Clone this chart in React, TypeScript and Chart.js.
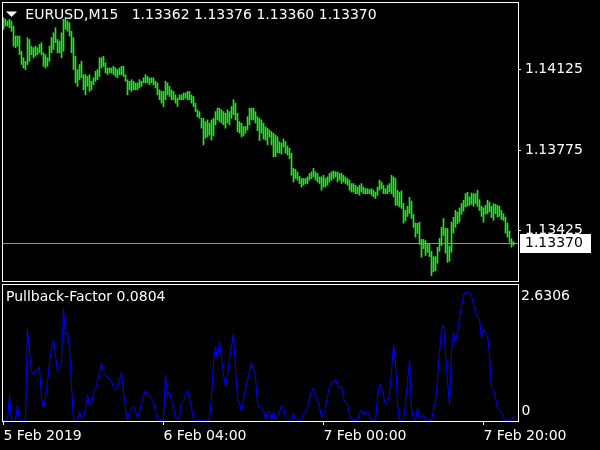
import { useEffect, useRef } from 'react';
import { Chart, registerables } from 'chart.js';

Chart.register(...registerables);

// ---------- data ----------
const symbolTitle = 'EURUSD,M15';
const lastOHLC = [1.13362, 1.13376, 1.1336, 1.1337];
const priceTicks = [1.14125, 1.13775, 1.13425];

const barHighs = [
  1.14351, 1.14344, 1.14336, 1.14344, 1.14336, 1.14314, 1.14271, 1.14271, 1.14271, 1.14205,
  1.14176, 1.14161, 1.14264, 1.14256, 1.14227, 1.1422, 1.14227, 1.1422, 1.14234, 1.14242,
  1.14198, 1.1419, 1.14176, 1.14227, 1.14264, 1.14285, 1.14307, 1.14256, 1.14249, 1.14285,
  1.14344, 1.14351, 1.14336, 1.14329, 1.14292, 1.14264, 1.14183, 1.14125, 1.14147, 1.14161,
  1.14103, 1.14103, 1.14095, 1.14103, 1.14074, 1.14089, 1.14118, 1.14125, 1.14176, 1.14176,
  1.14183, 1.14154, 1.14132, 1.14132, 1.14132, 1.14139, 1.14132, 1.14125, 1.14132, 1.14139,
  1.14139, 1.14103, 1.14081, 1.14074, 1.14081, 1.14074, 1.14067, 1.14067, 1.14081, 1.14074,
  1.14089, 1.14103, 1.14095, 1.14089, 1.14089, 1.14089, 1.14074, 1.14067, 1.14037, 1.1403,
  1.1403, 1.14074, 1.14067, 1.14052, 1.14037, 1.1403, 1.14015, 1.14001, 1.14015, 1.14015,
  1.14023, 1.14023, 1.1403, 1.1403, 1.14015, 1.14008, 1.13979, 1.1395, 1.13942, 1.13913,
  1.13913, 1.13899, 1.13906, 1.13892, 1.13906, 1.13913, 1.13942, 1.13957, 1.13957, 1.1395,
  1.13942, 1.13935, 1.1395, 1.13942, 1.13964, 1.13994, 1.13979, 1.13935, 1.13899, 1.13892,
  1.13877, 1.13877, 1.1392, 1.13957, 1.13957, 1.13957, 1.13942, 1.1392, 1.13913, 1.13906,
  1.13892, 1.13877, 1.1387, 1.13862, 1.13855, 1.13848, 1.1384, 1.13833, 1.13811, 1.13805,
  1.13823, 1.13811, 1.13792, 1.13782, 1.13761, 1.13695, 1.13691, 1.1368, 1.13661, 1.13651,
  1.13651, 1.13651, 1.13658, 1.13673, 1.1368, 1.13695, 1.1368, 1.13673, 1.13658, 1.13658,
  1.13665, 1.13651, 1.13658, 1.13673, 1.1368, 1.13684, 1.1368, 1.1368, 1.13673, 1.13673,
  1.13665, 1.13658, 1.13651, 1.13644, 1.13629, 1.13629, 1.13622, 1.13614, 1.13622, 1.13629,
  1.13614, 1.13607, 1.13607, 1.13603, 1.13607, 1.136, 1.13592, 1.13614, 1.13644, 1.13636,
  1.13622, 1.13607, 1.13622, 1.13629, 1.13665, 1.13658, 1.13651, 1.136, 1.13592, 1.13597,
  1.13543, 1.13512, 1.1353, 1.13569, 1.13553, 1.13495, 1.13457, 1.13456, 1.13461, 1.13386,
  1.13386, 1.13381, 1.13368, 1.13364, 1.13334, 1.13311, 1.13311, 1.13352, 1.1339, 1.13439,
  1.13477, 1.13434, 1.13434, 1.13356, 1.13461, 1.13482, 1.13512, 1.13505, 1.13523, 1.13542,
  1.13556, 1.13585, 1.13591, 1.13571, 1.13588, 1.13585, 1.13585, 1.136, 1.13559, 1.1353,
  1.13524, 1.13534, 1.13556, 1.13549, 1.1353, 1.13542, 1.13539, 1.13534, 1.1353, 1.13512,
  1.13498, 1.13483, 1.13457, 1.13422, 1.13389, 1.13376,
];

const barLows = [
  1.143, 1.14314, 1.14314, 1.14307, 1.14292, 1.14227, 1.1422, 1.14227, 1.1419, 1.14147,
  1.14132, 1.14125, 1.14147, 1.14161, 1.1419, 1.14176, 1.14183, 1.1419, 1.14198, 1.1419,
  1.14139, 1.14132, 1.14139, 1.14161, 1.14198, 1.14212, 1.14242, 1.14198, 1.14198, 1.14176,
  1.14205, 1.143, 1.14292, 1.14271, 1.14198, 1.14125, 1.14067, 1.14052, 1.14081, 1.14089,
  1.14037, 1.14015, 1.14052, 1.1403, 1.14037, 1.14059, 1.14074, 1.14081, 1.14095, 1.14132,
  1.14139, 1.1411, 1.14103, 1.1411, 1.1411, 1.14103, 1.14095, 1.14089, 1.14103, 1.14103,
  1.14095, 1.14074, 1.14015, 1.14037, 1.1403, 1.14037, 1.14037, 1.14037, 1.14045, 1.14052,
  1.14067, 1.14067, 1.14067, 1.14059, 1.14067, 1.14059, 1.14045, 1.14015, 1.13994, 1.13979,
  1.13964, 1.13994, 1.14015, 1.14008, 1.13994, 1.13994, 1.13979, 1.13964, 1.13994, 1.13994,
  1.13994, 1.14001, 1.13994, 1.13994, 1.13979, 1.13964, 1.13942, 1.1392, 1.13913, 1.1387,
  1.13797, 1.13827, 1.13832, 1.1384, 1.13818, 1.13836, 1.13884, 1.13906, 1.13899, 1.13892,
  1.13884, 1.1387, 1.13892, 1.13884, 1.13913, 1.13928, 1.13906, 1.13855, 1.13848, 1.13832,
  1.13836, 1.13848, 1.13862, 1.13884, 1.13906, 1.13906, 1.13892, 1.13859, 1.13816, 1.13848,
  1.13822, 1.13818, 1.13797, 1.13831, 1.13797, 1.13746, 1.13746, 1.13763, 1.13761, 1.13757,
  1.13788, 1.13761, 1.13753, 1.13738, 1.13665, 1.13636, 1.13651, 1.13644, 1.13629, 1.13614,
  1.13622, 1.13629, 1.13629, 1.13644, 1.13651, 1.13658, 1.13644, 1.13636, 1.13629, 1.136,
  1.13614, 1.13614, 1.13622, 1.13636, 1.13644, 1.13651, 1.13658, 1.13636, 1.13644, 1.13629,
  1.13636, 1.13629, 1.13622, 1.136, 1.13592, 1.13592, 1.13585, 1.13585, 1.13578, 1.13592,
  1.13585, 1.13585, 1.13585, 1.13585, 1.13578, 1.13571, 1.13564, 1.13578, 1.136, 1.13607,
  1.13585, 1.13585, 1.13585, 1.13592, 1.13585, 1.13571, 1.13534, 1.13534, 1.13527, 1.13521,
  1.13457, 1.13466, 1.13486, 1.13499, 1.13477, 1.13438, 1.13396, 1.13412, 1.13364, 1.13308,
  1.13346, 1.13316, 1.13329, 1.13311, 1.13228, 1.13245, 1.1325, 1.13282, 1.13334, 1.13359,
  1.13403, 1.13326, 1.13286, 1.13291, 1.1333, 1.13413, 1.13439, 1.13454, 1.13461, 1.13495,
  1.13509, 1.13527, 1.13531, 1.13534, 1.13539, 1.1353, 1.13542, 1.1353, 1.13512, 1.13486,
  1.13461, 1.13495, 1.13498, 1.13505, 1.13481, 1.13469, 1.13498, 1.13483, 1.13486, 1.13472,
  1.13469, 1.13413, 1.13396, 1.13374, 1.13352, 1.1336,
];

const indicatorName = 'Pullback-Factor';
const indicatorMax = 2.6306;
const pullback = [
  0, 0, 0, 0.52, 0, 0, 0, 0.32, 0, 0,
  0, 0, 1.88, 1.4, 1.0, 0.96, 1.0, 1.03, 1.1, 0.45,
  0.25, 0.45, 0.79, 1.2, 1.47, 1.64, 1.34, 1.0, 1.06, 1.2,
  2.29, 1.74, 1.81, 1.47, 0.72, 0, 0, 0, 0.18, 0.05,
  0.1, 0.25, 0.52, 0.32, 0.32, 0.59, 0.66, 0.79, 1.0, 1.17,
  1.0, 0.93, 0.87, 0.85, 0.8, 0.66, 0.62, 0.67, 0.83, 0.98,
  0.59, 0.25, 0, 0.18, 0.25, 0.28, 0.18, 0.05, 0.18, 0.35,
  0.52, 0.62, 0.51, 0.49, 0.45, 0.38, 0.18, 0, 0, 0,
  0, 0.93, 0.49, 0.59, 0.42, 0.25, 0.05, 0, 0.11, 0.35,
  0.4, 0.52, 0.62, 0.45, 0.25, 0, 0, 0, 0, 0,
  0, 0, 0, 0, 0.45, 1.2, 1.51, 1.27, 1.61, 1.27,
  0.93, 0.69, 0.93, 1.27, 1.51, 1.78, 1.06, 0.42, 0.35, 0.18,
  0.42, 0.66, 0.83, 1.0, 1.17, 1.06, 0.86, 0.35, 0.25, 0.25,
  0.21, 0, 0.18, 0.18, 0, 0.18, 0, 0.08, 0.18, 0.3,
  0.28, 0.05, 0, 0, 0, 0.15, 0.05, 0, 0, 0,
  0.15, 0.18, 0.25, 0.45, 0.59, 0.66, 0.52, 0.38, 0.28, 0.05,
  0.15, 0.25, 0.49, 0.69, 0.78, 0.79, 0.84, 0.71, 0.66, 0.69,
  0.45, 0.38, 0.33, 0.11, 0, 0, 0, 0, 0.15, 0.21,
  0.11, 0.18, 0.15, 0.08, 0, 0, 0, 0.45, 0.76, 0.66,
  0.49, 0.32, 0.35, 0.55, 1.0, 1.54, 1.2, 0.35, 0, 0,
  0, 0.38, 0.79, 1.23, 0.25, 0, 0, 0.25, 0.05, 0.05,
  0.11, 0, 0, 0, 0, 0.21, 0.38, 0.86, 1.4, 1.85,
  1.95, 1.4, 0.79, 0.32, 1.4, 1.81, 1.61, 1.78, 2.12, 2.32,
  2.56, 2.6306, 2.61, 2.61, 2.53, 2.37, 2.22, 2.12, 2.08, 1.68,
  1.87, 1.81, 1.74, 1.34, 0.66, 0.62, 0.45, 0.25, 0.21, 0.15,
  0.05, 0, 0, 0, 0, 0.0804,
];

const timeTickIndex = [0, 80, 160, 240];
const timeTickLabels = ['5 Feb 2019', '6 Feb 04:00', '7 Feb 00:00', '7 Feb 20:00'];

// ---------- styles ----------
const FAMILY = '"DejaVu Sans", sans-serif';
const FONT_SIZE = 14;
const BAR_GREEN = 'rgb(34,230,34)';
const LINE_BLUE = '#0000ff';
const BID_GRAY = 'rgb(136,146,166)';
const WHITE = '#ffffff';

const fmt = (v: number, d: number) => v.toFixed(d);

const upperPlugin = {
  id: 'upperDecor',
  afterDatasetsDraw(chart: any) {
    const { ctx, chartArea: a, scales } = chart;
    const y = Math.round(scales.y.getPixelForValue(lastOHLC[3])) + 0.5;
    ctx.save();
    ctx.strokeStyle = BID_GRAY;
    ctx.lineWidth = 1;
    ctx.beginPath();
    ctx.moveTo(a.left, y);
    ctx.lineTo(a.right, y);
    ctx.stroke();
    ctx.restore();
  },
  afterDraw(chart: any) {
    const { ctx, chartArea: a, scales } = chart;
    ctx.save();
    ctx.strokeStyle = WHITE;
    ctx.lineWidth = 1;
    ctx.strokeRect(a.left + 0.5, a.top + 0.5, a.right - a.left, a.bottom - a.top);
    // title
    ctx.fillStyle = WHITE;
    ctx.beginPath();
    ctx.moveTo(6, 11.5);
    ctx.lineTo(17, 11.5);
    ctx.lineTo(11.5, 17);
    ctx.closePath();
    ctx.fill();
    ctx.font = `${FONT_SIZE}px ${FAMILY}`;
    ctx.textBaseline = 'middle';
    ctx.textAlign = 'left';
    ctx.fillText(symbolTitle, 25.3, 15.5);
    ctx.fillText(lastOHLC.map((v) => fmt(v, 5)).join(' '), 131.7, 15.5);
    // current price box
    const yc = Math.round(scales.y.getPixelForValue(lastOHLC[3]));
    ctx.fillStyle = WHITE;
    ctx.fillRect(520, yc - 9, 71, 19);
    ctx.fillStyle = '#000';
    ctx.fillText(fmt(lastOHLC[3], 5), 525, yc + 0.5);
    ctx.restore();
  },
};

const lowerPlugin = {
  id: 'lowerDecor',
  afterDraw(chart: any) {
    const { ctx, chartArea: a, scales } = chart;
    ctx.save();
    ctx.strokeStyle = WHITE;
    ctx.lineWidth = 1;
    ctx.strokeRect(a.left + 0.5, a.top + 0.5, a.right - a.left, a.bottom - a.top);
    ctx.fillStyle = WHITE;
    ctx.font = `${FONT_SIZE}px ${FAMILY}`;
    ctx.textBaseline = 'middle';
    ctx.textAlign = 'left';
    const last = pullback[pullback.length - 1];
    ctx.fillText(`${indicatorName} ${fmt(last, 4)}`, 6, 15.5);
    const yMax = scales.y.getPixelForValue(indicatorMax);
    const yZero = scales.y.getPixelForValue(0);
    ctx.fillText(fmt(indicatorMax, 4), 521, yMax + 4.5);
    ctx.fillText('0', 521.5, yZero - 9);
    ctx.restore();
  },
};

export default function App() {
  const topRef = useRef<HTMLCanvasElement>(null);
  const botRef = useRef<HTMLCanvasElement>(null);

  useEffect(() => {
    document.body.style.margin = '0';
    document.body.style.background = '#000';
    const n = barHighs.length;
    const xMin = -0.75;
    const xMax = n + 1.25;
    const font = { family: FAMILY, size: FONT_SIZE };

    const priceBars = barHighs.map((h, i) => ({ x: i, y: [barLows[i], h] }));
    const top = new Chart(topRef.current as HTMLCanvasElement, {
      type: 'bar',
      data: {
        datasets: [
          {
            data: priceBars as any,
            backgroundColor: BAR_GREEN,
            borderWidth: 0,
            barThickness: 1,
          },
        ],
      },
      options: {
        responsive: false,
        animation: false,
        events: [],
        layout: { padding: { left: 2, top: 2, right: 0, bottom: 1 } },
        plugins: { legend: { display: false }, tooltip: { enabled: false } },
        scales: {
          x: { type: 'linear', min: xMin, max: xMax, offset: false, display: false },
          y: {
            position: 'right',
            min: 1.13205,
            max: 1.14419,
            afterBuildTicks: (s: any) => {
              s.ticks = priceTicks.map((v) => ({ value: v }));
            },
            ticks: {
              color: WHITE,
              font,
              padding: 4,
              callback: (v: any) => fmt(Number(v), 5),
            },
            grid: { drawOnChartArea: false, tickLength: 3, color: WHITE },
            border: { display: false },
            afterFit: (s: any) => {
              s.width = 82;
              s.paddingTop = 0;
              s.paddingBottom = 0;
            },
          },
        },
      } as any,
      plugins: [upperPlugin],
    });

    const indicatorPoints = pullback.map((v, i) => ({ x: i, y: v }));
    const bot = new Chart(botRef.current as HTMLCanvasElement, {
      type: 'line',
      data: {
        datasets: [
          {
            data: indicatorPoints,
            borderColor: LINE_BLUE,
            borderWidth: 1,
            pointRadius: 0,
            tension: 0,
            fill: false,
          },
        ],
      },
      options: {
        responsive: false,
        animation: false,
        events: [],
        layout: { padding: { left: 2, top: 2, right: 0, bottom: 0 } },
        plugins: { legend: { display: false }, tooltip: { enabled: false } },
        scales: {
          x: {
            type: 'linear',
            min: xMin,
            max: xMax,
            afterBuildTicks: (s: any) => {
              s.ticks = timeTickIndex.map((v) => ({ value: v }));
            },
            ticks: {
              color: WHITE,
              font,
              align: 'start',
              padding: 3,
              maxRotation: 0,
              autoSkip: false,
              callback: (_v: any, idx: number) => timeTickLabels[idx],
            },
            grid: { drawOnChartArea: false, tickLength: 4, color: WHITE },
            border: { display: false },
            afterFit: (s: any) => {
              s.height = 29;
              s.paddingLeft = 0;
              s.paddingRight = 0;
            },
          },
          y: {
            position: 'right',
            min: -0.015,
            max: 2.79,
            ticks: { display: false },
            grid: { display: false },
            border: { display: false },
            afterFit: (s: any) => {
              s.width = 82;
              s.paddingTop = 0;
              s.paddingBottom = 0;
            },
          },
        },
      } as any,
      plugins: [lowerPlugin],
    });

    return () => {
      top.destroy();
      bot.destroy();
    };
  }, []);

  return (
    <div style={{ position: 'relative', width: 600, height: 450, background: '#000' }}>
      <canvas
        ref={topRef}
        width={600}
        height={282}
        style={{ position: 'absolute', left: 0, top: 0, display: 'block' }}
      />
      <canvas
        ref={botRef}
        width={600}
        height={168}
        style={{ position: 'absolute', left: 0, top: 282, display: 'block' }}
      />
    </div>
  );
}
